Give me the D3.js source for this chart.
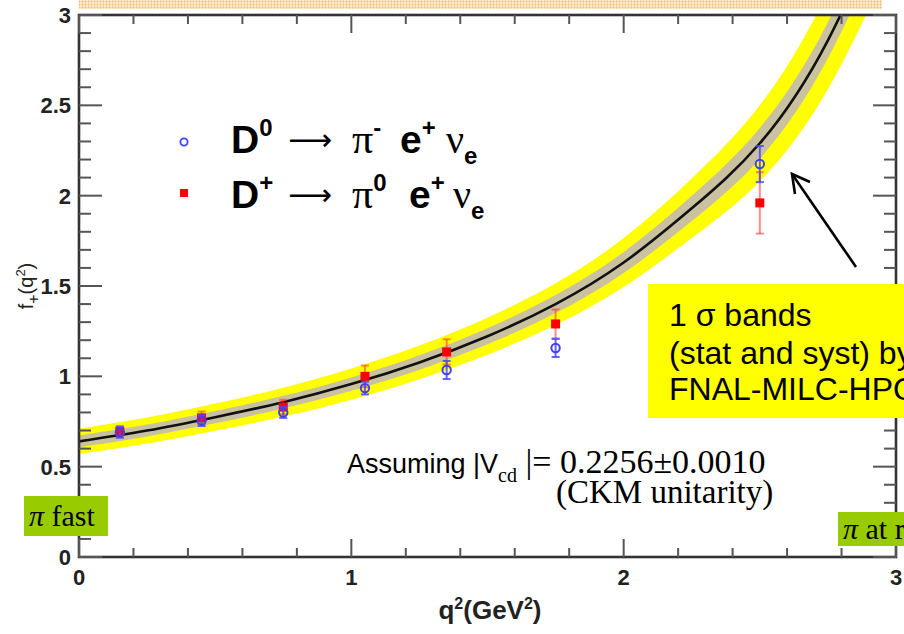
<!DOCTYPE html>
<html>
<head>
<meta charset="utf-8">
<script src="https://cdn.jsdelivr.net/npm/d3@7"></script>
<style>
    body {margin: 0; background: #fff;}
    svg {display: block;}
</style>
</head>
<body>
<svg id="chart" width="904" height="634"></svg>
<script>
// values
const pointsQ2 = [0.15, 0.45, 0.75, 1.05, 1.35, 1.75, 2.5];
const d0Val = [0.69, 0.755, 0.80, 0.935, 1.035, 1.157, 2.175];
const d0Err = [0.03, 0.03, 0.03, 0.035, 0.05, 0.05, 0.1];
const dpVal = [0.695, 0.77, 0.83, 1.0, 1.135, 1.29, 1.96];
const dpErr = [0.03, 0.035, 0.04, 0.06, 0.07, 0.08, 0.17];

// lattice curve + its bands
const curveQ2 = [0, 0.25, 0.5, 0.75, 1.0, 1.25, 1.5, 1.75, 2.0, 2.25, 2.5, 2.75, 3.0];
const curveF = [0.64, 0.70, 0.774, 0.857, 0.957, 1.077, 1.222, 1.40, 1.63, 1.93, 2.29, 2.86, 3.70];
const yellowHalf = [0.07, 0.072, 0.075, 0.08, 0.086, 0.093, 0.102, 0.115, 0.135, 0.165, 0.21, 0.27, 0.34];
const grayHalf = [0.033, 0.033, 0.034, 0.035, 0.037, 0.04, 0.044, 0.05, 0.058, 0.07, 0.085, 0.1, 0.12];

const xTicks = [0, 1, 2, 3];
const yTicks = [0, 0.5, 1, 1.5, 2, 2.5, 3];
const yTickText = ['0', '0.5', '1', '1.5', '2', '2.5', '3'];

const svg = d3.select('#chart');
const x = d3.scaleLinear().domain([0, 3]).range([79, 896]);
const y = d3.scaleLinear().domain([0, 3]).range([557, 15]);
const sans = '"Liberation Sans", Arial, sans-serif';
const serif = '"Liberation Serif", "Times New Roman", serif';

const defs = svg.append('defs');
defs.append('clipPath').attr('id', 'plotClip')
    .append('rect').attr('x', x(0)).attr('y', y(3)).attr('width', x(3) - x(0)).attr('height', y(0) - y(3));
const pat = defs.append('pattern').attr('id', 'dots').attr('patternUnits', 'userSpaceOnUse')
    .attr('width', 3).attr('height', 3);
pat.append('rect').attr('width', 3).attr('height', 3).attr('fill', '#fdecd2');
pat.append('circle').attr('cx', 1.5).attr('cy', 1.5).attr('r', 0.9).attr('fill', '#f6b565');

svg.append('rect').attr('width', 904).attr('height', 634).attr('fill', '#fff');

// dotted strip at the very top
svg.append('rect').attr('x', 79).attr('y', 0).attr('width', 803).attr('height', 9).attr('fill', 'url(#dots)');

const curve = curveQ2.map((q, i) => ({q, f: curveF[i], yh: yellowHalf[i], gh: grayHalf[i]}));
const plot = svg.append('g').attr('clip-path', 'url(#plotClip)');

plot.append('path').datum(curve)
    .attr('fill', '#ffff00')
    .attr('d', d3.area().curve(d3.curveNatural).x(d => x(d.q)).y0(d => y(d.f - d.yh)).y1(d => y(d.f + d.yh)));
plot.append('path').datum(curve)
    .attr('fill', '#c9c19f')
    .attr('d', d3.area().curve(d3.curveNatural).x(d => x(d.q)).y0(d => y(d.f - d.gh)).y1(d => y(d.f + d.gh)));
plot.append('path').datum(curve)
    .attr('fill', 'none').attr('stroke', '#111').attr('stroke-width', 2.6)
    .attr('d', d3.line().curve(d3.curveNatural).x(d => x(d.q)).y(d => y(d.f)));

// frame + ticks (ROOT style, ticks inward on all sides)
const axisCol = '#333';
const frame = svg.append('g');
frame.append('rect').attr('x', x(0)).attr('y', y(3)).attr('width', x(3) - x(0)).attr('height', y(0) - y(3))
    .attr('fill', 'none').attr('stroke', axisCol).attr('stroke-width', 2.6);

const yMinor = d3.range(0, 3.001, 0.1);
const xMinor = d3.range(0, 3.001, 0.2);
const isMajor = (v, step) => Math.abs(v / step - Math.round(v / step)) < 1e-6;

frame.selectAll('line.ytick').data(yMinor).join('line').attr('class', 'ytick')
    .attr('x1', x(0)).attr('x2', d => x(0) + (isMajor(d, 0.5) ? 23 : 12))
    .attr('y1', d => y(d)).attr('y2', d => y(d))
    .attr('stroke', '#555').attr('stroke-width', 2);
frame.selectAll('line.ytickR').data(yMinor).join('line').attr('class', 'ytickR')
    .attr('x1', x(3)).attr('x2', d => x(3) - (isMajor(d, 0.5) ? 23 : 12))
    .attr('y1', d => y(d)).attr('y2', d => y(d))
    .attr('stroke', '#555').attr('stroke-width', 2);
frame.selectAll('line.xtick').data(xMinor).join('line').attr('class', 'xtick')
    .attr('x1', d => x(d)).attr('x2', d => x(d))
    .attr('y1', y(0)).attr('y2', d => y(0) - (isMajor(d, 1) ? 18 : 9))
    .attr('stroke', '#555').attr('stroke-width', 2);
frame.selectAll('line.xtickT').data(xMinor).join('line').attr('class', 'xtickT')
    .attr('x1', d => x(d)).attr('x2', d => x(d))
    .attr('y1', y(3)).attr('y2', d => y(3) + (isMajor(d, 1) ? 18 : 9))
    .attr('stroke', '#555').attr('stroke-width', 2);

frame.selectAll('text.ylab').data(yTicks).join('text').attr('class', 'ylab')
    .attr('x', 71).attr('y', d => y(d) + 8)
    .attr('text-anchor', 'end')
    .style('font', `bold 22px ${sans}`).attr('fill', '#222')
    .text((d, i) => yTickText[i]);
frame.selectAll('text.xlab').data(xTicks).join('text').attr('class', 'xlab')
    .attr('x', d => x(d)).attr('y', 585)
    .attr('text-anchor', 'middle')
    .style('font', `bold 22px ${sans}`).attr('fill', '#222')
    .text(d => d);

// axis titles
const xt = svg.append('text').attr('x', 490).attr('y', 619).attr('text-anchor', 'middle')
    .style('font', `bold 26px ${sans}`).attr('fill', '#222');
xt.append('tspan').text('q');
xt.append('tspan').attr('dy', -10).style('font-size', '16px').text('2');
xt.append('tspan').attr('dy', 10).text('(GeV');
xt.append('tspan').attr('dy', -10).style('font-size', '16px').text('2');
xt.append('tspan').attr('dy', 10).text(')');

const yt = svg.append('text').attr('transform', 'translate(33,286) rotate(-90)').attr('text-anchor', 'middle')
    .style('font', `20px ${sans}`).attr('fill', '#222');
yt.append('tspan').text('f');
yt.append('tspan').attr('dy', 6).style('font-size', '16px').text('+');
yt.append('tspan').attr('dy', -6).text('(q');
yt.append('tspan').attr('dy', -8).style('font-size', '13px').text('2');
yt.append('tspan').attr('dy', 8).text(')');

// data points: D+ (red squares) first, D0 (blue circles) on top
const dp = pointsQ2.map((q, i) => ({q, v: dpVal[i], e: dpErr[i]}));
const d0 = pointsQ2.map((q, i) => ({q, v: d0Val[i], e: d0Err[i]}));

function errBars(g, data, col, op) {
    g.selectAll('line.bar').data(data).join('line').attr('class', 'bar')
        .attr('x1', d => x(d.q)).attr('x2', d => x(d.q))
        .attr('y1', d => y(d.v - d.e)).attr('y2', d => y(d.v + d.e))
        .attr('stroke', col).attr('stroke-width', 2).attr('opacity', op);
    g.selectAll('line.capT').data(data).join('line').attr('class', 'capT')
        .attr('x1', d => x(d.q) - 4).attr('x2', d => x(d.q) + 4)
        .attr('y1', d => y(d.v + d.e)).attr('y2', d => y(d.v + d.e))
        .attr('stroke', col).attr('stroke-width', 2).attr('opacity', op);
    g.selectAll('line.capB').data(data).join('line').attr('class', 'capB')
        .attr('x1', d => x(d.q) - 4).attr('x2', d => x(d.q) + 4)
        .attr('y1', d => y(d.v - d.e)).attr('y2', d => y(d.v - d.e))
        .attr('stroke', col).attr('stroke-width', 2).attr('opacity', op);
}

const gRed = svg.append('g');
errBars(gRed, dp, '#ff3030', 0.55);
gRed.selectAll('rect').data(dp).join('rect')
    .attr('x', d => x(d.q) - 4.5).attr('y', d => y(d.v) - 4.5)
    .attr('width', 9).attr('height', 9).attr('fill', '#ff0000');

const gBlue = svg.append('g');
errBars(gBlue, d0, '#4b4bff', 0.85);
gBlue.selectAll('circle').data(d0).join('circle')
    .attr('cx', d => x(d.q)).attr('cy', d => y(d.v)).attr('r', 4.2)
    .attr('fill', 'none').attr('stroke', '#4040f0').attr('stroke-width', 2);

// legend
const lg = svg.append('g');
lg.append('circle').attr('cx', 184).attr('cy', 142).attr('r', 3.6)
    .attr('fill', 'none').attr('stroke', '#4040ff').attr('stroke-width', 1.8);
lg.append('rect').attr('x', 180).attr('y', 189).attr('width', 8).attr('height', 8).attr('fill', '#ff0000');

function legendRow(base, dSup, piSup) {
    lg.append('text').attr('x', 231).attr('y', base).style('font', `bold 39px ${sans}`).attr('fill', '#000')
        .text('D')
        .append('tspan').attr('dy', -17).style('font-size', '24px').text(dSup);
    lg.append('text').attr('x', 288).attr('y', base - 3).attr('textLength', 44).attr('lengthAdjust', 'spacingAndGlyphs')
        .style('font', '30px "DejaVu Sans", sans-serif').attr('fill', '#000')
        .text('⟶');
    lg.append('text').attr('x', 352).attr('y', base).style('font', `42px ${serif}`).attr('fill', '#000')
        .text('π')
        .append('tspan').attr('dy', -17).style('font', `bold 24px ${sans}`).text(piSup);
    lg.append('text').attr('x', piSup === '-' ? 400 : 409).attr('y', base).style('font', `bold 39px ${sans}`).attr('fill', '#000')
        .text('e')
        .append('tspan').attr('dy', -17).style('font-size', '24px').text('+');
    const nu = lg.append('text').attr('x', piSup === '-' ? 446 : 453).attr('y', base).style('font', `40px ${serif}`).attr('fill', '#000')
        .text('ν');
    nu.append('tspan').attr('dy', 11).style('font', `bold 24px ${sans}`).text('e');
}
legendRow(153, '0', '-');
legendRow(208, '+', '0');

// annotation text
const ann = svg.append('text').attr('x', 347).attr('y', 473).attr('fill', '#000')
    .style('font', `27px ${sans}`);
ann.append('tspan').text('Assuming |V');
ann.append('tspan').attr('dy', 9).style('font', `20px ${serif}`).text('cd');
ann.append('tspan').attr('dy', -9).style('font', `34px ${serif}`).text(' |= 0.2256±0.0010');
svg.append('text').attr('x', 556).attr('y', 503).attr('fill', '#000')
    .style('font', `33px ${serif}`).text('(CKM unitarity)');

// arrow pointing at the band
svg.append('line').attr('x1', 856).attr('y1', 267).attr('x2', 792).attr('y2', 174)
    .attr('stroke', '#000').attr('stroke-width', 2.6);
svg.append('path').attr('d', 'M810,182 L792,174 L795,194')
    .attr('fill', 'none').attr('stroke', '#000').attr('stroke-width', 2.6);

// yellow note box
svg.append('rect').attr('x', 648).attr('y', 284).attr('width', 260).attr('height', 134).attr('fill', '#ffff00');
const note = svg.append('text').attr('fill', '#000').style('font', `32px ${sans}`);
note.append('tspan').attr('x', 669).attr('y', 326).text('1 σ bands');
note.append('tspan').attr('x', 669).attr('y', 364).text('(stat and syst) by');
note.append('tspan').attr('x', 669).attr('y', 400).text('FNAL-MILC-HPQCD');

// green tags
svg.append('rect').attr('x', 24).attr('y', 496).attr('width', 84).attr('height', 40).attr('fill', '#99cc00');
const t1 = svg.append('text').attr('x', 29).attr('y', 526).attr('fill', '#000').style('font', `30px ${serif}`);
t1.append('tspan').style('font-style', 'italic').text('π');
t1.append('tspan').text(' fast');
svg.append('rect').attr('x', 838).attr('y', 512).attr('width', 70).attr('height', 34).attr('fill', '#99cc00');
const t2 = svg.append('text').attr('x', 843).attr('y', 539).attr('fill', '#000').style('font', `30px ${serif}`);
t2.append('tspan').style('font-style', 'italic').text('π');
t2.append('tspan').text(' at rest');
</script>
</body>
</html>
